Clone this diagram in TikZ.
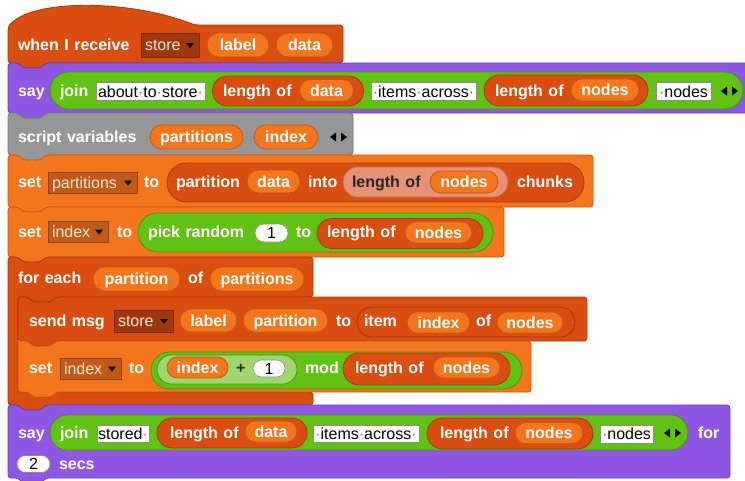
\documentclass[tikz,border=0pt]{standalone}
\usepackage{fontspec}
\setmainfont{Liberation Sans}
\usetikzlibrary{shapes.misc,calc}

% block palette
\definecolor{lstc}{RGB}{217,77,17}
\definecolor{lstedge}{RGB}{166,55,10}
\definecolor{varc}{RGB}{243,118,29}
\definecolor{varedge}{RGB}{198,88,16}
\definecolor{looksc}{RGB}{143,86,227}
\definecolor{looksedge}{RGB}{112,62,190}
\definecolor{opc}{RGB}{98,194,19}
\definecolor{opedge}{RGB}{72,150,12}
\definecolor{othc}{RGB}{150,150,150}
\definecolor{othedge}{RGB}{118,118,118}
\definecolor{lstzebra}{RGB}{230,146,116}
\definecolor{lstzedge}{RGB}{196,108,84}
\definecolor{opzebra}{RGB}{160,214,112}
\definecolor{ddonlst}{RGB}{158,55,12}
\definecolor{ddonvar}{RGB}{192,90,22}
\definecolor{ddtext}{RGB}{246,232,220}
\definecolor{spacedot}{RGB}{176,92,84}

\newcommand\dt{{\color{spacedot}·}}
\newcommand\wgap{\spaceskip=5.5pt\relax}

% command block with top notch and bottom tab: L, T, R, B, fill, edge
\newcommand\cmdblk[6]{%
  \filldraw[blk, fill=#5, draw=#6] (#1,#2) -- ({#1+10},#2) -- ({#1+15},{#2+5})
    -- ({#1+33},{#2+5}) -- ({#1+38},#2) -- (#3,#2) -- (#3,#4) -- ({#1+38},#4)
    -- ({#1+33},{#4+5}) -- ({#1+15},{#4+5}) -- ({#1+10},#4) -- (#1,#4) -- cycle;}
% left/right arrows of a variadic input
\newcommand\arrs[2]{%
  \fill[black] (#1,#2) -- ({#1+6},{#2-4.5}) -- ({#1+6},{#2+4.5}) -- cycle;
  \fill[black] ({#1+17},#2) -- ({#1+11},{#2-4.5}) -- ({#1+11},{#2+4.5}) -- cycle;}
% dropdown arrow inside a menu slot
\newcommand\ddtri[1]{\fill[black] ($(#1.east)+(-13,-2)$) -- ++(8,0) -- ++(-4,5) -- cycle;}

\tikzset{
  every node/.style={inner sep=0pt, outer sep=0pt},
  blk/.style={line width=0.8pt, rounded corners=3pt},
  lbl/.style={anchor=west, text=white, font=\fontsize{16}{18}\selectfont\bfseries\wgap,
    text height=11.5pt, text depth=0pt},
  dlbl/.style={lbl, text=black!85},
  pill/.style={rounded rectangle, fill=varc, draw=varedge, line width=0.8pt, text=white,
    font=\fontsize{16}{18}\selectfont\bfseries, text height=11.5pt, text depth=0pt,
    minimum height=23pt},
  rep/.style={rounded rectangle, line width=0.8pt},
  replst/.style={rep, fill=lstc, draw=lstedge},
  repop/.style={rep, fill=opc, draw=opedge},
  slot/.style={rectangle, fill=white, draw=black!45, line width=0.6pt,
    font=\fontsize{16}{18}\selectfont, text=black, text height=11pt, text depth=0pt},
  numslot/.style={rounded rectangle, fill=white, draw=black!45, line width=0.6pt,
    font=\fontsize{16}{18}\selectfont, text=black, text height=11pt, text depth=0pt},
  dd/.style={rectangle, line width=0.6pt},
  ddl/.style={anchor=west, text=ddtext, font=\fontsize{16}{18}\selectfont,
    text height=11pt, text depth=0pt},
}

\begin{document}
\begin{tikzpicture}[x=1pt, y=-1pt]
\fill[white] (0,0) rectangle (745,480);
\useasboundingbox (0,0) rectangle (745,480);

% ---------- block outlines ----------
% hat: when I receive
\filldraw[blk, fill=lstc, draw=lstedge] (8,63) -- (8,27) .. controls (30,0) and (125,-2) .. (195,25)
  -- (343,25) -- (343,63) -- (46,63) -- (41,68) -- (23,68) -- (18,63) -- cycle;
\cmdblk{8}{63}{748}{113}{looksc}{looksedge}
\cmdblk{8}{113}{353}{155}{othc}{othedge}
\cmdblk{8}{155}{593}{207}{varc}{varedge}
\cmdblk{8}{207}{504}{257}{varc}{varedge}
% for each (C-shaped)
\filldraw[blk, fill=lstc, draw=lstedge] (8,257) -- (18,257) -- (23,262) -- (41,262) -- (46,257)
  -- (313,257) -- (313,297) -- (56,297) -- (51,302) -- (33,302) -- (28,297) -- (18,297)
  -- (18,392) -- (313,392) -- (313,405) -- (46,405) -- (41,410) -- (23,410) -- (18,405)
  -- (8,405) -- cycle;
\cmdblk{18}{297}{587}{341}{lstc}{lstedge}
\cmdblk{18}{341}{531}{392}{varc}{varedge}
\cmdblk{8}{405}{730}{478}{looksc}{looksedge}

% ---------- when I receive ----------
\node[lbl] (hatlbl) at (18,45) {when I receive};
\node[dd, fill=ddonlst, draw=ddonlst!75!black, minimum width=58, minimum height=24] (dd1) at (170,45) {};
\node[ddl] (dd1t) at ([xshift=4pt]dd1.west) {store};
\ddtri{dd1}
\node[pill, minimum width=62, minimum height=24] (hlabel) at (238,45) {label};
\node[pill, minimum width=57, minimum height=24] (hdata) at (304.5,45) {data};

% ---------- say (join ...) ----------
\node[lbl] (say1) at (18,91) {say};
\node[repop, minimum width=693, minimum height=37] (join1) at (396.5,90.5) {};
\node[lbl] (join1t) at (60,91) {join};
\node[slot, minimum width=109, minimum height=18] (s1a) at (150.5,91.5) {about\dt to\dt store\dt};
\node[replst, minimum width=151, minimum height=30] (len1) at (288,91) {};
\node[lbl] (len1t) at (223,91) {length of};
\node[pill, minimum width=54, minimum height=22] (len1v) at (326.5,90.5) {data};
\node[slot, minimum width=105, minimum height=18] (s1b) at (423.5,91.5) {\dt items\dt across\dt};
\node[replst, minimum width=164, minimum height=31] (len2) at (566,90.5) {};
\node[lbl] (len2t) at (495,91) {length of};
\node[pill, minimum width=68, minimum height=22] (len2v) at (605,90) {nodes};
\node[slot, minimum width=55, minimum height=18] (s1c) at (683.5,91.5) {\dt nodes};
\arrs{721}{91}

% ---------- script variables ----------
\node[lbl] (svlbl) at (18,137) {script variables};
\node[pill, minimum width=93, minimum height=24] (sv1) at (196.5,137) {partitions};
\node[pill, minimum width=64, minimum height=24] (sv2) at (286,137) {index};
\arrs{330}{137}

% ---------- set partitions ----------
\node[lbl] (set1) at (18,182) {set};
\node[dd, fill=ddonvar, draw=ddonvar!75!black, minimum width=89, minimum height=21] (dd2) at (92.5,182.5) {};
\node[ddl] (dd2t) at ([xshift=4pt]dd2.west) {partitions};
\ddtri{dd2}
\node[lbl] (set1to) at (144,182) {to};
\node[replst, minimum width=417, minimum height=39] (part) at (375.5,182.5) {};
\node[lbl] (partt) at (176,182) {partition};
\node[pill, minimum width=53, minimum height=23] (partv) at (273.5,181.5) {data};
\node[lbl] (partin) at (308,182) {into};
\node[rep, fill=lstzebra, draw=lstzedge, minimum width=165, minimum height=30] (len3) at (425.5,182) {};
\node[dlbl] (len3t) at (352,182) {length of};
\node[pill, minimum width=68, minimum height=22] (len3v) at (464,182) {nodes};
\node[lbl] (partch) at (517,182) {chunks};

% ---------- set index to pick random ----------
\node[lbl] (set2) at (18,232) {set};
\node[dd, fill=ddonvar, draw=ddonvar!75!black, minimum width=60, minimum height=21] (dd3) at (78,231.5) {};
\node[ddl] (dd3t) at ([xshift=4pt]dd3.west) {index};
\ddtri{dd3}
\node[lbl] (set2to) at (117,232) {to};
\node[repop, minimum width=355, minimum height=39] (rnd) at (315.5,232.5) {};
\node[lbl] (rndt) at (148,232) {pick random};
\node[numslot, minimum width=33, minimum height=18] (rnd1) at (271.5,233) {1};
\node[lbl] (rndto) at (296,232) {to};
\node[replst, minimum width=166, minimum height=30] (len4) at (400,233.5) {};
\node[lbl] (len4t) at (327,232) {length of};
\node[pill, minimum width=67, minimum height=21] (len4v) at (438.5,232.5) {nodes};

% ---------- for each ----------
\node[lbl] (fe) at (18,278) {for each};
\node[pill, minimum width=87, minimum height=24] (feup) at (136.5,279) {partition};
\node[lbl] (feof) at (188,278) {of};
\node[pill, minimum width=94, minimum height=24] (felist) at (257,279) {partitions};

% ---------- send msg ----------
\node[lbl] (snd) at (29,321) {send msg};
\node[dd, fill=ddonlst, draw=ddonlst!75!black, minimum width=59, minimum height=22] (dd4) at (143.5,321) {};
\node[ddl] (dd4t) at ([xshift=4pt]dd4.west) {store};
\ddtri{dd4}
\node[pill, minimum width=57, minimum height=23] (sndl) at (208.5,320.5) {label};
\node[pill, minimum width=85, minimum height=23] (sndp) at (285.5,320.5) {partition};
\node[lbl] (sndto) at (336,321) {to};
\node[replst, minimum width=218, minimum height=30] (itm) at (466,322) {};
\node[lbl] (itmt) at (364,321) {item};
\node[pill, minimum width=63, minimum height=21] (itmi) at (438.5,322.5) {index};
\node[lbl] (itmof) at (476,321) {of};
\node[pill, minimum width=66, minimum height=21] (itmn) at (530,322.5) {nodes};

% ---------- set index to ((index + 1) mod ...) ----------
\node[lbl] (set3) at (29,368) {set};
\node[dd, fill=ddonvar, draw=ddonvar!75!black, minimum width=61, minimum height=21] (dd5) at (90.5,368.5) {};
\node[ddl] (dd5t) at ([xshift=4pt]dd5.west) {index};
\ddtri{dd5}
\node[lbl] (set3to) at (129,368) {to};
\node[repop, minimum width=371, minimum height=37] (md) at (336.5,370.5) {};
\node[rep, fill=opzebra, draw=opedge, minimum width=140, minimum height=29] (sum) at (227,369.5) {};
\node[pill, minimum width=61, minimum height=21] (sumi) at (197.5,367.5) {index};
\node[dlbl] (plus) at (236,368) {+};
\node[numslot, minimum width=32, minimum height=17] (sum1) at (269,368.5) {1};
\node[lbl] (mdt) at (305,368) {mod};
\node[replst, minimum width=167, minimum height=32] (len5) at (426.5,369) {};
\node[lbl] (len5t) at (355,368) {length of};
\node[pill, minimum width=67, minimum height=21] (len5v) at (466.5,367.5) {nodes};

% ---------- say (join ...) for 2 secs ----------
\node[lbl] (say2) at (18,433) {say};
\node[repop, minimum width=638, minimum height=35] (join2) at (369,432.5) {};
\node[lbl] (join2t) at (60,433) {join};
\node[slot, minimum width=52, minimum height=17] (s2a) at (123,433.5) {stored\dt};
\node[replst, minimum width=150, minimum height=30] (len6) at (232,433) {};
\node[lbl] (len6t) at (170,433) {length of};
\node[pill, minimum width=52, minimum height=21] (len6v) at (271,431.5) {data};
\node[slot, minimum width=106, minimum height=17] (s2b) at (366,433.5) {\dt items\dt across\dt};
\node[replst, minimum width=166, minimum height=31] (len7) at (510,433.5) {};
\node[lbl] (len7t) at (440,433) {length of};
\node[pill, minimum width=68, minimum height=21] (len7v) at (549,433) {nodes};
\node[slot, minimum width=53, minimum height=18] (s2c) at (626.5,434) {\dt nodes};
\arrs{664}{433}
\node[lbl] (forl) at (698,433) {for};
\node[numslot, minimum width=33, minimum height=17] (secs) at (33.5,464) {2};
\node[lbl] (secst) at (59,464) {secs};
\end{tikzpicture}
\end{document}
